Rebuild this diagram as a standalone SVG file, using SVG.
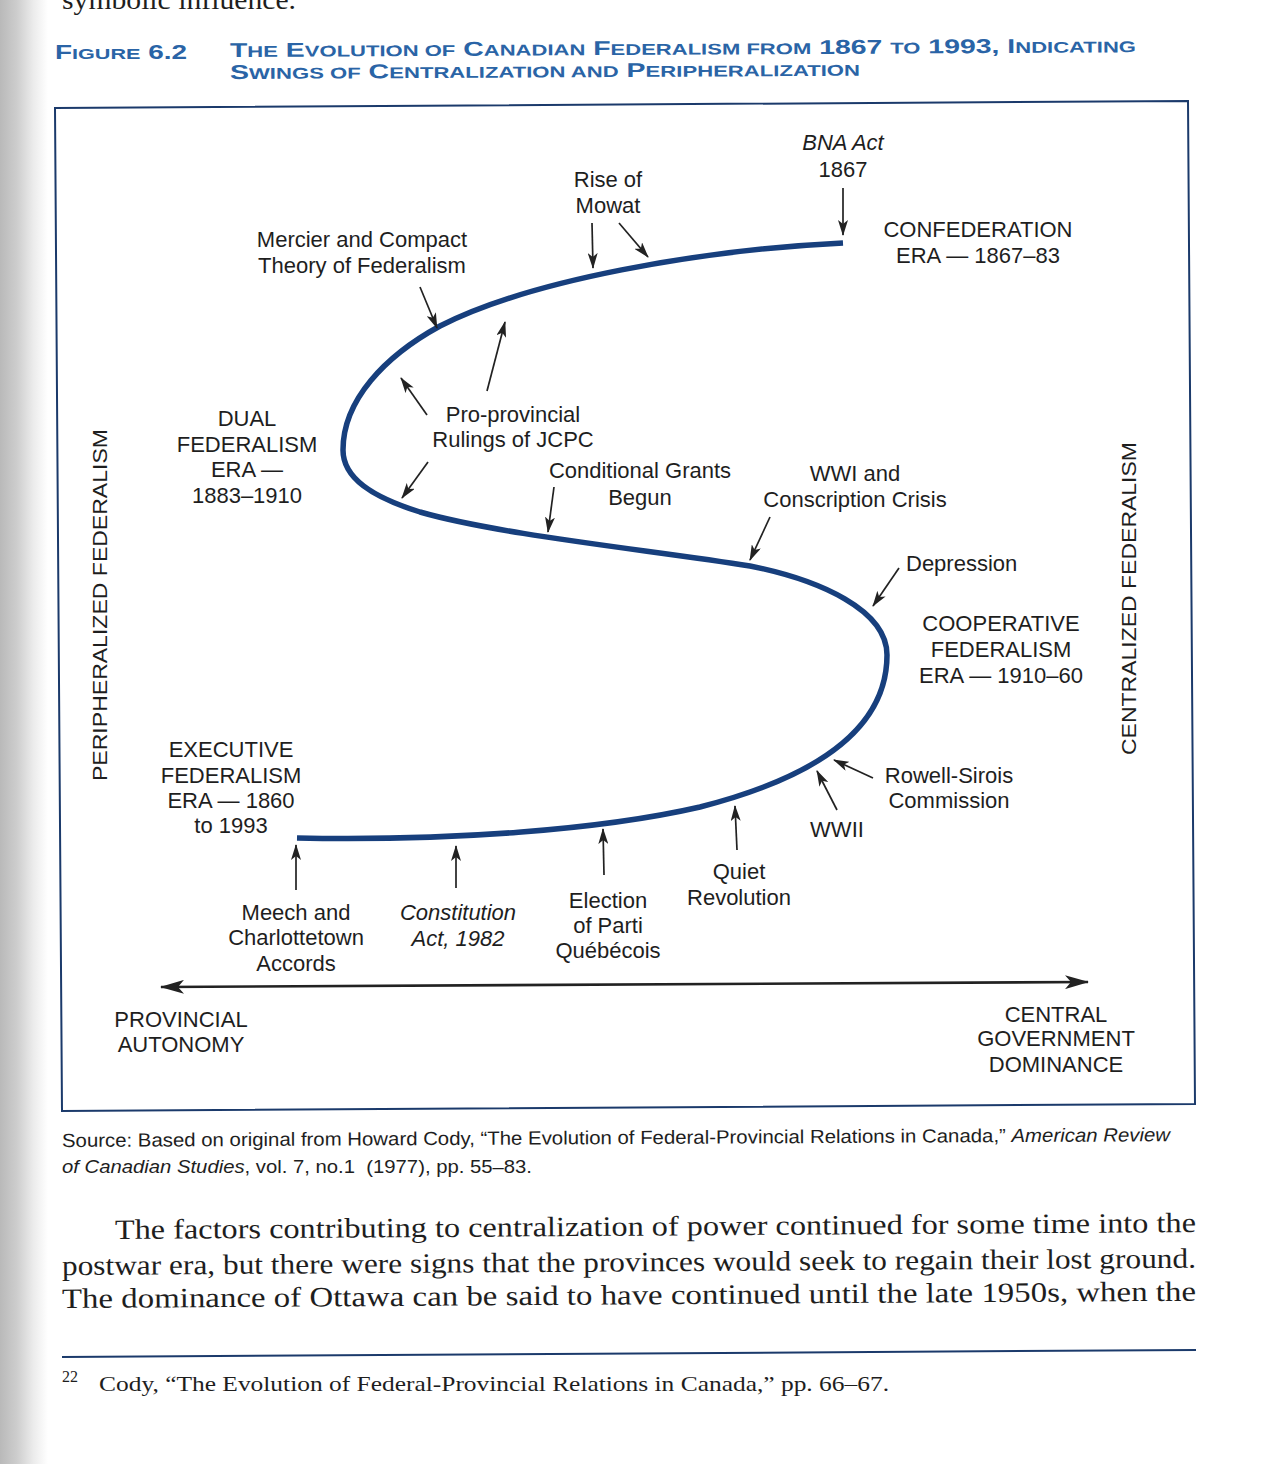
<svg xmlns="http://www.w3.org/2000/svg" width="1288" height="1464" viewBox="0 0 1288 1464">
<defs>
<linearGradient id="binding" x1="0" y1="0" x2="1" y2="0">
<stop offset="0" stop-color="#b9b9b9"/>
<stop offset="0.35" stop-color="#cdcdcd"/>
<stop offset="0.7" stop-color="#ececec"/>
<stop offset="1" stop-color="#ffffff"/>
</linearGradient>
<marker id="ah" viewBox="0 0 16 10" refX="15" refY="5" markerWidth="16" markerHeight="10" markerUnits="userSpaceOnUse" orient="auto">
<path d="M0,0 L16,5 L0,10 L4,5 Z" fill="#222"/>
</marker>
<marker id="ahBig" viewBox="0 0 24 14" refX="23" refY="7" markerWidth="24" markerHeight="14" markerUnits="userSpaceOnUse" orient="auto-start-reverse">
<path d="M0,0 L24,7 L0,14 L6,7 Z" fill="#222"/>
</marker>
<style>
.lbl{font-family:"Liberation Sans",Arial,sans-serif;font-size:22px;fill:#1e1e1e;text-anchor:middle}
.lbl-l{font-family:"Liberation Sans",Arial,sans-serif;font-size:22px;fill:#1e1e1e}
.it{font-style:italic}
.vert{font-family:"Liberation Sans",Arial,sans-serif;font-size:21px;fill:#1e1e1e}
.title{font-family:"Liberation Sans",Arial,sans-serif;font-size:20px;font-weight:bold;fill:#2a64a6}
.sc{font-size:15.5px}
.src{font-family:"Liberation Sans",Arial,sans-serif;font-size:19px;fill:#1e1e1e}
.body{font-family:"Liberation Serif","Times New Roman",serif;font-size:28px;fill:#1e1e1e}
.conn{stroke:#222;stroke-width:1.7;fill:none;marker-end:url(#ah)}
.axis{stroke:#222;stroke-width:2.6;fill:none;marker-start:url(#ahBig);marker-end:url(#ahBig)}
.curve{stroke:#173f7d;stroke-width:5.5;fill:none}
.frame{stroke:#1b3a6b;stroke-width:2;fill:none}
</style>
</defs>
<rect x="0" y="0" width="1288" height="1464" fill="#ffffff"/>
<rect x="0" y="0" width="48" height="1464" fill="url(#binding)"/>

<!-- page text above -->
<text class="body" x="62" y="9" textLength="234" lengthAdjust="spacingAndGlyphs">symbolic influence.</text>

<!-- title -->
<g id="title">
<text class="title" x="55" y="59" textLength="132" lengthAdjust="spacingAndGlyphs">F<tspan class="sc">IGURE</tspan> 6.2</text>
<text class="title" x="230" y="57" textLength="906" lengthAdjust="spacingAndGlyphs" transform="rotate(-0.3 230 57)">T<tspan class="sc">HE</tspan> E<tspan class="sc">VOLUTION OF</tspan> C<tspan class="sc">ANADIAN</tspan> F<tspan class="sc">EDERALISM FROM</tspan> 1867 <tspan class="sc">TO</tspan> 1993, I<tspan class="sc">NDICATING</tspan></text>
<text class="title" x="230" y="79" textLength="630" lengthAdjust="spacingAndGlyphs" transform="rotate(-0.3 230 79)">S<tspan class="sc">WINGS OF</tspan> C<tspan class="sc">ENTRALIZATION AND</tspan> P<tspan class="sc">ERIPHERALIZATION</tspan></text>
</g>

<!-- frame -->
<polygon class="frame" points="55,108 1188,101 1195,1104 62,1111"/>

<!-- curve -->
<g id="curve">
<path class="curve" d="M843,243 C700,250 530,280 440,326 C385,356 343,400 343,450 C343,478 372,497 420,512 C500,535 650,550 750,566 C820,580 887,610 887,655 C887,725 825,775 700,807 C600,830 450,841 297,838"/>
</g>

<!-- connectors -->
<g id="connectors">
<line class="conn" x1="843" y1="188" x2="843" y2="235"/>
<line class="conn" x1="592" y1="223" x2="593" y2="268"/>
<line class="conn" x1="619" y1="223" x2="648" y2="257"/>
<line class="conn" x1="420" y1="287" x2="437" y2="328"/>
<line class="conn" x1="487" y1="391" x2="505" y2="322"/>
<line class="conn" x1="427" y1="415" x2="401" y2="378"/>
<line class="conn" x1="428" y1="462" x2="402" y2="498"/>
<line class="conn" x1="554" y1="487" x2="548" y2="532"/>
<line class="conn" x1="770" y1="517" x2="750" y2="560"/>
<line class="conn" x1="899" y1="568" x2="873" y2="606"/>
<line class="conn" x1="873" y1="778" x2="834" y2="760"/>
<line class="conn" x1="837" y1="810" x2="817" y2="771"/>
<line class="conn" x1="737" y1="850" x2="735" y2="806"/>
<line class="conn" x1="604" y1="875" x2="603" y2="829"/>
<line class="conn" x1="456" y1="888" x2="456" y2="846"/>
<line class="conn" x1="296" y1="890" x2="296" y2="845"/>
<line class="axis" x1="161" y1="987" x2="1088" y2="982"/>
</g>

<!-- nodes -->
<g id="bna"><text class="lbl it" x="843" y="150">BNA Act</text><text class="lbl" x="843" y="177">1867</text></g>
<g id="mowat"><text class="lbl" x="608" y="187">Rise of</text><text class="lbl" x="608" y="213">Mowat</text></g>
<g id="confederation"><text class="lbl" x="978" y="237">CONFEDERATION</text><text class="lbl" x="978" y="263">ERA — 1867–83</text></g>
<g id="mercier"><text class="lbl" x="362" y="247">Mercier and Compact</text><text class="lbl" x="362" y="273">Theory of Federalism</text></g>
<g id="dual"><text class="lbl" x="247" y="426">DUAL</text><text class="lbl" x="247" y="452">FEDERALISM</text><text class="lbl" x="247" y="477">ERA —</text><text class="lbl" x="247" y="503">1883–1910</text></g>
<g id="jcpc"><text class="lbl" x="513" y="422">Pro-provincial</text><text class="lbl" x="513" y="447">Rulings of JCPC</text></g>
<g id="grants"><text class="lbl" x="640" y="478">Conditional Grants</text><text class="lbl" x="640" y="505">Begun</text></g>
<g id="wwi"><text class="lbl" x="855" y="481">WWI and</text><text class="lbl" x="855" y="507">Conscription Crisis</text></g>
<g id="depression"><text class="lbl-l" x="906" y="571">Depression</text></g>
<g id="cooperative"><text class="lbl" x="1001" y="631">COOPERATIVE</text><text class="lbl" x="1001" y="657">FEDERALISM</text><text class="lbl" x="1001" y="683">ERA — 1910–60</text></g>
<g id="rowell"><text class="lbl" x="949" y="783">Rowell-Sirois</text><text class="lbl" x="949" y="808">Commission</text></g>
<g id="wwii"><text class="lbl" x="837" y="837">WWII</text></g>
<g id="executive"><text class="lbl" x="231" y="757">EXECUTIVE</text><text class="lbl" x="231" y="783">FEDERALISM</text><text class="lbl" x="231" y="808">ERA — 1860</text><text class="lbl" x="231" y="833">to 1993</text></g>
<g id="quiet"><text class="lbl" x="739" y="879">Quiet</text><text class="lbl" x="739" y="905">Revolution</text></g>
<g id="pq"><text class="lbl" x="608" y="908">Election</text><text class="lbl" x="608" y="933">of Parti</text><text class="lbl" x="608" y="958">Québécois</text></g>
<g id="constitution"><text class="lbl it" x="458" y="920">Constitution</text><text class="lbl it" x="458" y="946">Act, 1982</text></g>
<g id="meech"><text class="lbl" x="296" y="920">Meech and</text><text class="lbl" x="296" y="945">Charlottetown</text><text class="lbl" x="296" y="971">Accords</text></g>
<g id="provincial"><text class="lbl" x="181" y="1027">PROVINCIAL</text><text class="lbl" x="181" y="1052">AUTONOMY</text></g>
<g id="central"><text class="lbl" x="1056" y="1022">CENTRAL</text><text class="lbl" x="1056" y="1046">GOVERNMENT</text><text class="lbl" x="1056" y="1072">DOMINANCE</text></g>
<g id="peripheralized"><text class="vert" transform="translate(107,781) rotate(-90)" x="0" y="0" textLength="352" lengthAdjust="spacingAndGlyphs">PERIPHERALIZED FEDERALISM</text></g>
<g id="centralized"><text class="vert" transform="translate(1136,755) rotate(-90)" x="0" y="0" textLength="313" lengthAdjust="spacingAndGlyphs">CENTRALIZED FEDERALISM</text></g>

<!-- source -->
<g id="source">
<text class="src" x="62" y="1147" textLength="1108" lengthAdjust="spacingAndGlyphs" transform="rotate(-0.3 62 1147)">Source: Based on original from Howard Cody, “The Evolution of Federal-Provincial Relations in Canada,” <tspan class="it">American Review</tspan></text>
<text class="src" x="62" y="1173" textLength="470" lengthAdjust="spacingAndGlyphs" xml:space="preserve"><tspan class="it">of Canadian Studies</tspan>, vol. 7, no.1  (1977), pp. 55–83.</text>
</g>

<!-- body text -->
<g id="bodytext">
<text class="body" x="115" y="1239" textLength="1081" lengthAdjust="spacingAndGlyphs" transform="rotate(-0.37 115 1239)">The factors contributing to centralization of power continued for some time into the</text>
<text class="body" x="62" y="1275" textLength="1134" lengthAdjust="spacingAndGlyphs" transform="rotate(-0.37 62 1275)">postwar era, but there were signs that the provinces would seek to regain their lost ground.</text>
<text class="body" x="62" y="1308" textLength="1134" lengthAdjust="spacingAndGlyphs" transform="rotate(-0.37 62 1308)">The dominance of Ottawa can be said to have continued until the late 1950s, when the</text>
<line x1="62" y1="1357" x2="1196" y2="1350" stroke="#1b3a6b" stroke-width="2"/>
<text class="body" x="62" y="1382" style="font-size:16px">22</text>
<text class="body" x="99" y="1391" textLength="790" lengthAdjust="spacingAndGlyphs" style="font-size:22px">Cody, “The Evolution of Federal-Provincial Relations in Canada,” pp. 66–67.</text>
</g>
</svg>
